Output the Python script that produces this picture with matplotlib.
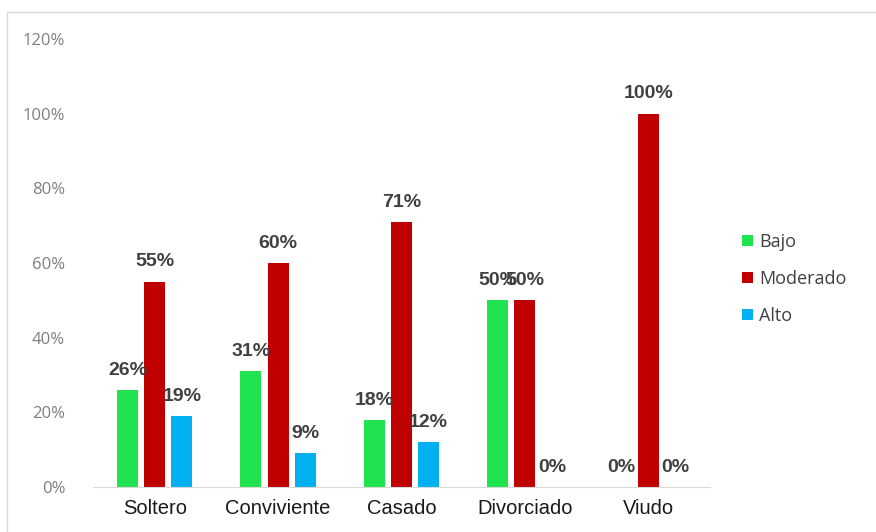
import numpy as np
import matplotlib.pyplot as plt
from matplotlib.patches import Rectangle

categories = ["Soltero", "Conviviente", "Casado", "Divorciado", "Viudo"]
series_names = ["Bajo", "Moderado", "Alto"]
bajo = [26, 31, 18, 50, 0]
moderado = [55, 60, 71, 50, 100]
alto = [19, 9, 12, 0, 0]
y_ticks = [0, 20, 40, 60, 80, 100, 120]

colors = ["#1fe34f", "#c00000", "#00b0f0"]

fig = plt.figure(figsize=(8.76, 5.32), dpi=100)
fig.patches.append(Rectangle((7 / 876, -0.01), 1.0, 1 - 12 / 532 + 0.01,
                             transform=fig.transFigure, fill=False,
                             edgecolor="#d9d9d9", linewidth=1.0))
ax = fig.add_axes([93 / 876, 1 - 487 / 532, (710 - 93) / 876, (487 - 39) / 532])

x = np.arange(len(categories))
width = 0.17
step = 0.22
for i, (name, vals) in enumerate(zip(series_names, [bajo, moderado, alto])):
    pos = x + (i - 1) * step
    ax.bar(pos, vals, width=width, color=colors[i], label=name, zorder=2)
    for px, v in zip(pos, vals):
        ax.text(px, v + 3.0, f"{v}%", ha="center", va="bottom",
                fontsize=14, fontweight="bold", color="#404040",
                family="Liberation Sans", zorder=3)

ax.set_ylim(0, 120)
ax.set_xlim(-0.5, len(categories) - 0.5)
ax.set_yticks(y_ticks)
ax.set_yticklabels([f"{t}%" for t in y_ticks], fontsize=12, color="#7f7f7f",
                   family="Open Sans")
ax.set_xticks(x)
ax.set_xticklabels(categories, fontsize=14.5, color="#1a1a1a",
                   family="Liberation Sans")
ax.tick_params(axis="both", length=0)
ax.tick_params(axis="y", pad=20)
ax.tick_params(axis="x", pad=9)
for side in ["top", "right", "left"]:
    ax.spines[side].set_visible(False)
ax.spines["bottom"].set_color("#d9d9d9")

leg = ax.legend(loc="center left", bbox_to_anchor=(1.025, 0.465), frameon=False,
                handlelength=0.6, handleheight=0.6, handletextpad=0.35,
                labelspacing=1.05, prop={"family": "Open Sans", "size": 13})
for t in leg.get_texts():
    t.set_color("#404040")

fig.savefig("out.png", dpi=100)
